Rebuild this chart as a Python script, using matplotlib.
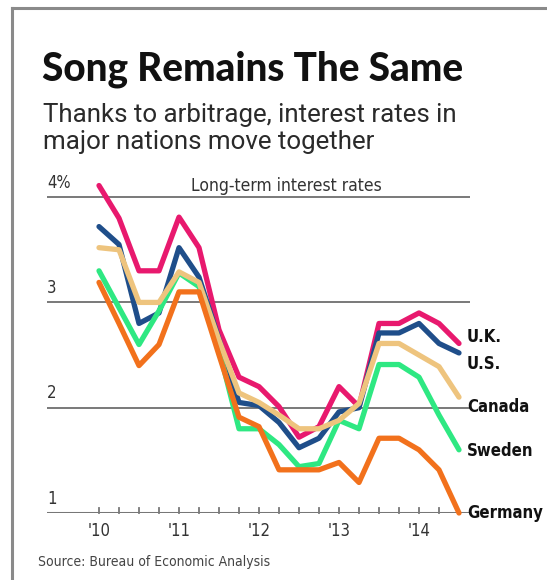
import numpy as np
import matplotlib.pyplot as plt
from matplotlib import font_manager
from matplotlib.lines import Line2D

# quarterly long-term rates, Q1 2010 .. Q3 2014
quarters = np.arange(19)
uk = [4.11, 3.80, 3.30, 3.30, 3.81, 3.52, 2.74, 2.29, 2.20, 2.01, 1.72, 1.82, 2.20, 2.01, 2.80, 2.80, 2.90, 2.80, 2.61]
us = [3.72, 3.55, 2.80, 2.90, 3.52, 3.24, 2.65, 2.05, 2.02, 1.86, 1.62, 1.71, 1.96, 2.00, 2.71, 2.71, 2.80, 2.61, 2.52]
canada = [3.52, 3.50, 3.00, 3.00, 3.29, 3.19, 2.64, 2.14, 2.05, 1.93, 1.80, 1.80, 1.88, 2.04, 2.61, 2.61, 2.50, 2.39, 2.10]
sweden = [3.30, 2.95, 2.60, 2.92, 3.28, 3.15, 2.55, 1.80, 1.80, 1.65, 1.44, 1.47, 1.88, 1.80, 2.41, 2.41, 2.29, 1.93, 1.60]
germany = [3.19, 2.80, 2.40, 2.60, 3.10, 3.10, 2.50, 1.91, 1.82, 1.41, 1.41, 1.41, 1.48, 1.29, 1.71, 1.71, 1.60, 1.41, 1.00]

year_pos = [0, 4, 8, 12, 16]
year_labels = ["'10", "'11", "'12", "'13", "'14"]
y_ticks = [1, 2, 3, 4]
y_labels = ['1', '2', '3', '4%']

# narrow face for the small labels: DejaVu condensed if present, else Liberation Sans
cond = [f for f in font_manager.fontManager.ttflist
        if f.name == 'DejaVu Sans' and f.stretch in ('condensed', 'semi-condensed')]
if cond:
    NARROW = dict(family='DejaVu Sans', stretch='condensed')
else:
    NARROW = dict(family='Liberation Sans')

W, H = 547, 580
fig = plt.figure(figsize=(W / 100, H / 100), dpi=100)
fig.patch.set_facecolor('white')

def fx(x):
    return x / W

def fy(y):
    return 1 - y / H

# plot area: x index -2.6..18.55, y 1..4.21
ax = fig.add_axes([fx(47), fy(513), fx(470) - fx(47), (513 - 175) / H])
ax.set_xlim(-2.6, 18.55)
ax.set_ylim(1, 4.21)
ax.axis('off')

for v in [2, 3, 4]:
    ax.axhline(v, color='#555555', lw=1.1, zorder=1)
ax.axhline(1, color='#777777', lw=2.2, zorder=1)
for q in range(18):
    ax.plot([q, q], [1, 1.05], color='#777777', lw=1.3, zorder=1, clip_on=False)

series = [
    (uk, '#E8196E', 'U.K.', 337),
    (us, '#1F4E8A', 'U.S.', 364),
    (sweden, '#2EE882', 'Sweden', 451),
    (canada, '#EEC47E', 'Canada', 407),
    (germany, '#F2711C', 'Germany', 513),
]
for vals, col, lab, ly in series:
    ax.plot(quarters, vals, color=col, lw=3.8, solid_joinstyle='round',
            solid_capstyle='round', clip_on=False, zorder=3)
    fig.text(fx(467), fy(ly), lab, fontsize=12, fontweight='bold',
             color='#111111', va='center', ha='left', **NARROW)

for v, lab in zip(y_ticks, y_labels):
    ax.text(-2.6, v + 0.05, lab, fontsize=12, color='#333333',
            va='bottom', ha='left', **NARROW)

for p, lab in zip(year_pos, year_labels):
    fig.text(fx(99 + 20 * p), fy(531), lab, fontsize=12,
             color='#333333', va='center', ha='center', **NARROW)

fig.text(fx(286), fy(191), 'Long-term interest rates', fontsize=12.5,
         color='#333333', va='baseline', ha='center', **NARROW)

fig.text(fx(42), fy(80), 'Song Remains The Same', fontsize=27.8, family='Lato',
         fontweight='black', color='#111111', va='baseline', ha='left')
fig.text(fx(43), fy(122), 'Thanks to arbitrage, interest rates in', fontsize=18.6,
         family='Roboto', color='#2a2a2a', va='baseline', ha='left')
fig.text(fx(43), fy(149), 'major nations move together', fontsize=18.6,
         family='Roboto', color='#2a2a2a', va='baseline', ha='left')

fig.text(fx(38), fy(562), 'Source: Bureau of Economic Analysis', fontsize=10,
         color='#444444', va='center', ha='left', **NARROW)

# frame on top and left edges
fig.add_artist(Line2D([fx(12), fx(12)], [fy(8), 0], color='#8a8a8a', lw=2.2))
fig.add_artist(Line2D([fx(12), 1], [fy(8), fy(8)], color='#8a8a8a', lw=2.2))

fig.savefig('out.png', dpi=100)
